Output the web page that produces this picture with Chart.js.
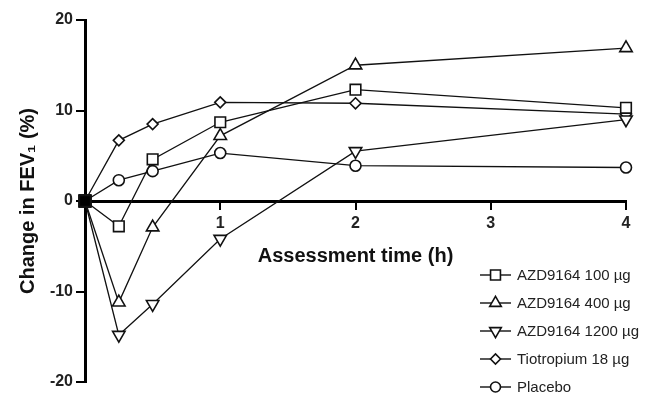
<!DOCTYPE html>
<html>
<head>
<meta charset="utf-8">
<script src="https://cdn.jsdelivr.net/npm/chart.js@4"></script>
<style>
html,body{margin:0;padding:0;background:#fff;}
#wrap{width:645px;height:395px;}
</style>
</head>
<body>
<div id="wrap"><canvas id="c" width="645" height="395"></canvas></div>
<script>
const times = [0, 0.25, 0.5, 1, 2, 4];
const azd100 = [0, -2.8, 4.6, 8.7, 12.3, 10.3];
const azd400 = [0, -11.2, -2.9, 7.2, 15.0, 16.9];
const azd1200 = [0, -14.8, -11.4, -4.2, 5.5, 9.0];
const tiotropium = [0, 6.7, 8.5, 10.9, 10.8, 9.6];
const placebo = [0, 2.3, 3.3, 5.3, 3.9, 3.7];
const seriesLabels = ['AZD9164 100 \u00b5g', 'AZD9164 400 \u00b5g', 'AZD9164 1200 \u00b5g', 'Tiotropium 18 \u00b5g', 'Placebo'];
const xTicks = [0, 1, 2, 3, 4];
const yTicks = [-20, -10, 0, 10, 20];

const FONT = "'Liberation Sans', Arial, Helvetica, sans-serif";
const styles = [
  {ps: 'rect', r: 7.5, rot: 0},
  {ps: 'triangle', r: 7.2, rot: 0},
  {ps: 'triangle', r: 7.2, rot: 180},
  {ps: 'rectRot', r: 5.5, rot: 0},
  {ps: 'circle', r: 5.5, rot: 0}
];
const allValues = [azd100, azd400, azd1200, tiotropium, placebo];

const datasets = allValues.map((vals, i) => ({
  label: seriesLabels[i],
  data: times.map((t, j) => ({x: t, y: vals[j]})),
  borderColor: '#111',
  borderWidth: 1.3,
  pointStyle: ctx => ctx.dataIndex === 0 ? 'rect' : styles[i].ps,
  pointRotation: ctx => ctx.dataIndex === 0 ? 0 : styles[i].rot,
  pointRadius: ctx => ctx.dataIndex === 0 ? 8 : styles[i].r,
  pointBackgroundColor: ctx => ctx.dataIndex === 0 ? '#000' : '#fff',
  pointBorderColor: '#111',
  pointBorderWidth: 1.6,
  tension: 0,
  clip: false,
  _style: styles[i]
}));

const legendPlugin = {
  id: 'customLegend',
  afterDraw(chart) {
    const ctx = chart.ctx;
    ctx.save();
    chart.data.datasets.forEach((ds, i) => {
      const y = 275 + i * 28;
      ctx.strokeStyle = '#111';
      ctx.lineWidth = 1.4;
      ctx.beginPath();
      ctx.moveTo(480, y);
      ctx.lineTo(511, y);
      ctx.stroke();
      ctx.fillStyle = '#fff';
      ctx.strokeStyle = '#111';
      ctx.lineWidth = 1.6;
      const st = ds._style;
      Chart.helpers.drawPoint(ctx, {pointStyle: st.ps, rotation: st.rot, radius: st.r - 0.5, borderWidth: 1.6}, 495.5, y);
      ctx.fillStyle = '#222';
      ctx.font = '15px ' + FONT;
      ctx.textBaseline = 'middle';
      ctx.textAlign = 'left';
      ctx.fillText(ds.label, 517, y + 1);
    });
    ctx.restore();
  }
};

new Chart(document.getElementById('c'), {
  type: 'line',
  data: {datasets},
  plugins: [legendPlugin],
  options: {
    responsive: false,
    animation: false,
    layout: {padding: {top: 20, bottom: 13, right: 19, left: 0}},
    plugins: {legend: {display: false}, tooltip: {enabled: false}},
    scales: {
      x: {
        type: 'linear',
        min: 0, max: 4,
        position: {y: 0},
        afterBuildTicks: s => { s.ticks = xTicks.map(v => ({value: v})); },
        afterFit: s => { s.height = 67; },
        border: {display: true, width: 3, color: '#000'},
        grid: {display: true, drawOnChartArea: false, drawTicks: true, tickLength: 7, lineWidth: 2, color: '#000'},
        ticks: {
          padding: 6,
          color: '#222',
          font: {family: FONT, size: 16, weight: 'bold'},
          callback: v => v === 0 ? null : String(v),
          maxRotation: 0
        },
        title: {
          display: true,
          text: 'Assessment time (h)',
          color: '#111',
          font: {family: FONT, size: 20, weight: 'bold'},
          padding: {top: 0, bottom: 0}
        }
      },
      y: {
        type: 'linear',
        min: -20, max: 20,
        position: 'left',
        afterBuildTicks: s => { s.ticks = yTicks.map(v => ({value: v})); },
        afterFit: s => { s.width = 85; },
        border: {display: true, width: 3, color: '#000'},
        grid: {display: true, drawOnChartArea: false, drawTicks: true, tickLength: 9, lineWidth: 2, color: '#000'},
        ticks: {
          padding: 3,
          color: '#222',
          font: {family: FONT, size: 16, weight: 'bold'}
        },
        title: {
          display: true,
          text: 'Change in FEV\u2081 (%)',
          color: '#111',
          font: {family: FONT, size: 20, weight: 'bold'},
          padding: {top: 16, bottom: 0}
        }
      }
    }
  }
});
</script>
</body>
</html>
